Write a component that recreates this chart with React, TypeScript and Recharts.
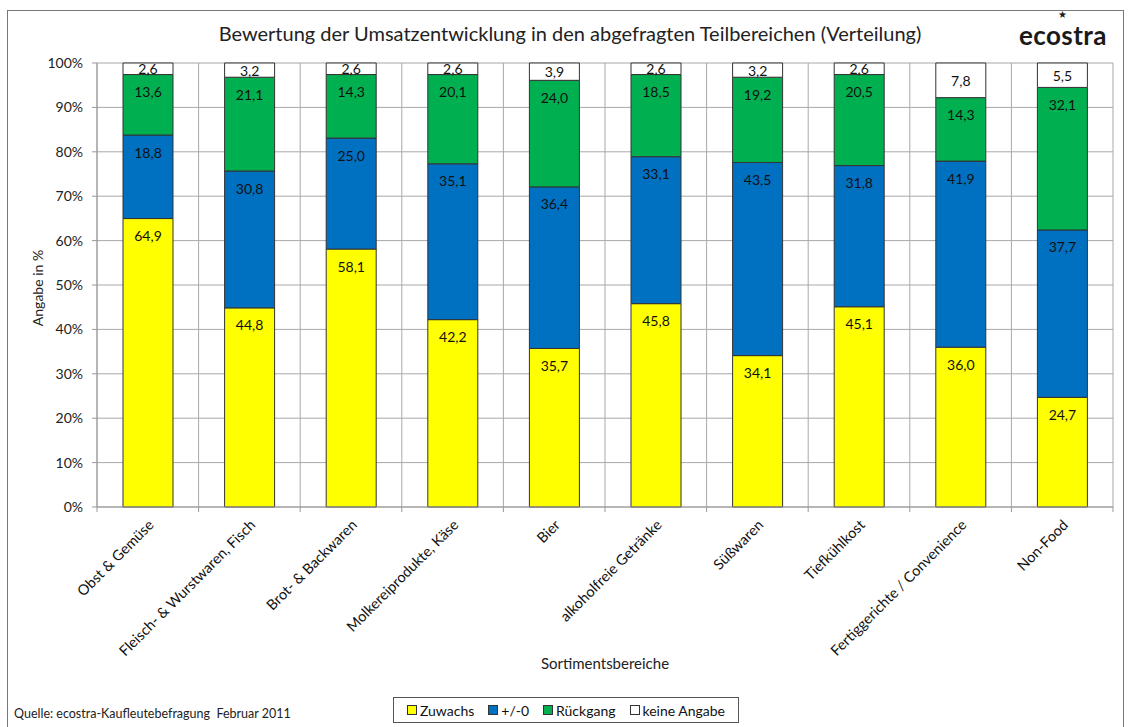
import React from 'react';
import { BarChart, Bar, XAxis, YAxis, CartesianGrid, LabelList } from 'recharts';

const categories = [
  'Obst & Gemüse',
  'Fleisch- & Wurstwaren, Fisch',
  'Brot- & Backwaren',
  'Molkereiprodukte, Käse',
  'Bier',
  'alkoholfreie Getränke',
  'Süßwaren',
  'Tiefkühlkost',
  'Fertiggerichte / Convenience',
  'Non-Food',
];
const zuwachs = [64.9, 44.8, 58.1, 42.2, 35.7, 45.8, 34.1, 45.1, 36.0, 24.7];
const neutral = [18.8, 30.8, 25.0, 35.1, 36.4, 33.1, 43.5, 31.8, 41.9, 37.7];
const rueckgang = [13.6, 21.1, 14.3, 20.1, 24.0, 18.5, 19.2, 20.5, 14.3, 32.1];
const keineAngabe = [2.6, 3.2, 2.6, 2.6, 3.9, 2.6, 3.2, 2.6, 7.8, 5.5];
const yTicks = [0, 0.1, 0.2, 0.3, 0.4, 0.5, 0.6, 0.7, 0.8, 0.9, 1];

const seriesNames = ['Zuwachs', '+/-0', 'Rückgang', 'keine Angabe'];
const seriesKeys = ['zuwachs', 'neutral', 'rueckgang', 'keine'];
const seriesColors = ['#FFFF00', '#0070C0', '#00B050', '#FFFFFF'];

const data = categories.map((name, i) => ({
  name,
  zuwachs: zuwachs[i],
  neutral: neutral[i],
  rueckgang: rueckgang[i],
  keine: keineAngabe[i],
}));

const FONT = 'Lato, "Open Sans", sans-serif';
const fmt = (v: number) => v.toFixed(1).replace('.', ',');

const SegmentLabel = (props: any) => {
  const { x, y, width, height, value } = props;
  if (value == null) return null;
  const h = Math.abs(height);
  const cy = y + Math.min(17, h / 2);
  return (
    <text
      x={x + width / 2}
      y={cy}
      textAnchor="middle"
      dominantBaseline="central"
      fontFamily={FONT}
      fontSize={14}
      fill="#111"
    >
      {fmt(value)}
    </text>
  );
};

const XTick = (props: any) => {
  const { x, payload, index, visibleTicksCount, width } = props;
  const band = width / (visibleTicksCount || 10);
  const ay = 507;
  const tx = x + 3;
  const ty = ay + 15;
  return (
    <g>
      <line x1={x - band / 2} x2={x - band / 2} y1={ay} y2={ay + 5} stroke="#999" />
      {index === visibleTicksCount - 1 ? (
        <line x1={x + band / 2} x2={x + band / 2} y1={ay} y2={ay + 5} stroke="#999" />
      ) : null}
      <text
        x={tx}
        y={ty}
        transform={`rotate(-45, ${tx}, ${ty})`}
        textAnchor="end"
        dominantBaseline="central"
        fontFamily={FONT}
        fontSize={14.5}
        fill="#111"
      >
        {payload.value}
      </text>
    </g>
  );
};

export default function App() {
  return (
    <div
      style={{
        position: 'absolute',
        left: 0,
        top: 0,
        width: 1129,
        height: 727,
        background: '#fff',
        overflow: 'hidden',
        fontFamily: FONT,
      }}
    >
      <div
        style={{
          position: 'absolute',
          left: 7,
          top: 10,
          width: 1117,
          height: 740,
          border: '1px solid #777',
          boxSizing: 'border-box',
        }}
      />
      <div
        style={{
          position: 'absolute',
          left: 0,
          top: 21,
          width: 1140,
          textAlign: 'center',
          fontSize: 20,
          lineHeight: '24px',
          color: '#222',
          whiteSpace: 'nowrap',
        }}
      >
        Bewertung der Umsatzentwicklung in den abgefragten Teilbereichen (Verteilung)
      </div>
      <div
        style={{
          position: 'absolute',
          left: 1019,
          top: 22,
          fontSize: 26,
          lineHeight: '26px',
          fontWeight: 700,
          color: '#1a1a1a',
          letterSpacing: 0.4,
        }}
      >
        ecostra
      </div>
      <div
        style={{
          position: 'absolute',
          left: 1058,
          top: 9,
          fontSize: 10,
          lineHeight: '11px',
          color: '#1a1a1a',
        }}
      >
        ★
      </div>
      <BarChart
        width={1129}
        height={727}
        data={data}
        stackOffset="expand"
        barSize={50}
        margin={{ top: 63, right: 16, bottom: 90, left: 52 }}
      >
        <CartesianGrid
          stroke="#a8a8a8"
          verticalCoordinatesGenerator={({ offset }: any) =>
            Array.from({ length: categories.length + 1 }, (_, i) => offset.left + (i * offset.width) / categories.length)
          }
        />
        <XAxis
          dataKey="name"
          interval={0}
          height={130}
          tickLine={false}
          axisLine={{ stroke: '#999' }}
          tick={<XTick />}
        />
        <YAxis
          width={45}
          domain={[0, 1]}
          ticks={yTicks}
          tickFormatter={(v: number) => `${Math.round(v * 100)}%`}
          axisLine={{ stroke: '#999' }}
          tickLine={{ stroke: '#999' }}
          tickSize={5}
          tickMargin={9}
          tick={{ fontFamily: FONT, fontSize: 14, fill: '#222' }}
        />
        {seriesKeys.map((k, i) => (
          <Bar
            key={k}
            dataKey={k}
            name={seriesNames[i]}
            stackId="a"
            fill={seriesColors[i]}
            stroke="#333"
            strokeWidth={1}
            isAnimationActive={false}
          >
            <LabelList dataKey={k} content={<SegmentLabel />} />
          </Bar>
        ))}
      </BarChart>
      <div
        style={{
          position: 'absolute',
          left: 37,
          top: 288,
          transform: 'translate(-50%, -50%) rotate(-90deg)',
          fontSize: 14,
          color: '#222',
          whiteSpace: 'nowrap',
        }}
      >
        Angabe in %
      </div>
      <div
        style={{
          position: 'absolute',
          left: 605,
          top: 663,
          transform: 'translate(-50%, -50%)',
          fontSize: 15,
          color: '#222',
          whiteSpace: 'nowrap',
        }}
      >
        Sortimentsbereiche
      </div>
      <div
        style={{
          position: 'absolute',
          left: 14,
          top: 706,
          fontSize: 12.5,
          color: '#222',
          whiteSpace: 'nowrap',
        }}
      >
        Quelle: ecostra-Kaufleutebefragung&nbsp;&nbsp;Februar 2011
      </div>
      <div
        style={{
          position: 'absolute',
          left: 393,
          top: 697,
          width: 346,
          height: 26,
          border: '1px solid #555',
          boxSizing: 'border-box',
          display: 'flex',
          alignItems: 'center',
          justifyContent: 'center',
          gap: 14,
          fontSize: 14,
          color: '#111',
        }}
      >
        {seriesNames.map((n, i) => (
          <div key={n} style={{ display: 'flex', alignItems: 'center', gap: 3 }}>
            <div
              style={{
                width: 8,
                height: 8,
                background: seriesColors[i],
                border: '1px solid #333',
              }}
            />
            <span>{n}</span>
          </div>
        ))}
      </div>
    </div>
  );
}
